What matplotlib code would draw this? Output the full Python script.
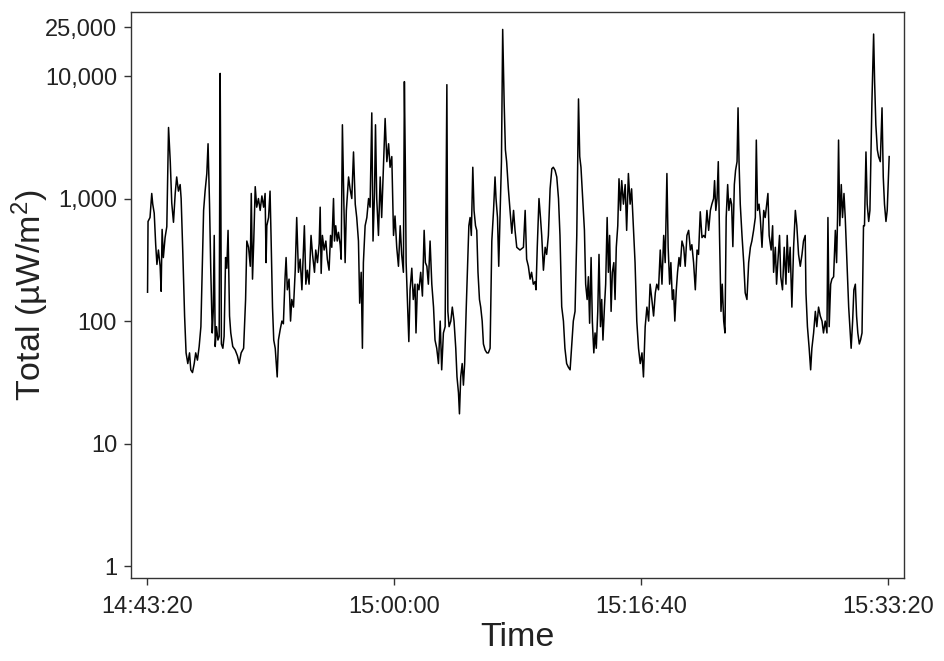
import numpy as np
import pandas as pd
import matplotlib
matplotlib.use("Agg")
import matplotlib.pyplot as plt
import matplotlib.dates as mdates
from matplotlib.ticker import FixedLocator, FuncFormatter, NullLocator

plt.rcParams["font.family"] = ["Liberation Sans", "DejaVu Sans"]
plt.rcParams["mathtext.fontset"] = "custom"
plt.rcParams["mathtext.rm"] = "Liberation Sans"
plt.rcParams["mathtext.it"] = "Liberation Sans"

# seconds after 14:43:20 and the total reading (µW/m²)
seconds = [
    2, 4, 12, 19, 23, 29, 35, 40, 46, 53, 57, 61, 66, 73, 80, 87, 94, 100, 107, 114,
    120, 127, 134, 138, 145, 152, 158, 165, 172, 177, 184, 191, 197, 204, 211, 218, 223, 229, 235, 242,
    247, 253, 258, 264, 268, 272, 276, 281, 287, 292, 296, 299, 301, 307, 312, 318, 323, 328, 334, 339,
    347, 357, 366, 373, 381, 391, 399, 404, 411, 418, 422, 427, 432, 438, 444, 451, 458, 465, 472,
    478, 482, 485, 492, 498, 502, 508, 513, 519, 527, 532, 539, 546, 552, 559, 563, 568, 575, 581, 586,
    593, 600, 606, 613, 620, 627, 637, 643, 649, 656, 664, 670, 678, 683, 690, 697, 701, 705, 710, 717,
    724, 730, 737, 743, 748, 755, 759, 764, 770, 775, 782, 786, 791, 797, 802, 807, 816, 822, 829, 836,
    843, 849, 856, 861, 867, 872, 876, 883, 890, 897, 903, 910, 915, 921, 925, 930, 937, 944, 950, 957,
    964, 971, 978,
    984, 991, 998, 1004, 1011, 1018, 1025, 1031, 1038, 1042, 1046, 1049, 1054, 1060, 1065, 1072, 1078, 1085, 1089, 1095,
    1101, 1108, 1115, 1122, 1127, 1133, 1139, 1146, 1153, 1160, 1166, 1173, 1180, 1187, 1193, 1200, 1207, 1214, 1218, 1223,
    1230, 1236, 1243, 1250, 1255, 1261, 1265, 1270, 1276, 1281, 1286, 1292, 1297, 1303, 1308, 1313, 1319, 1324, 1330, 1335,
    1340, 1346, 1351, 1357, 1362, 1369, 1376, 1382, 1389, 1396, 1403, 1409, 1413, 1419, 1424, 1430, 1435, 1440, 1446, 1451,
    1456, 1463, 1470, 1477, 1484,
    1490, 1497, 1510, 1524, 1531, 1537, 1544, 1551, 1557, 1564, 1571, 1575, 1580, 1587, 1593, 1598, 1605, 1612, 1618, 1625,
    1632, 1639, 1645, 1652, 1659, 1666, 1672, 1679, 1686, 1692, 1699, 1706, 1713, 1720, 1726, 1733, 1740, 1747, 1752, 1757,
    1764, 1771, 1776, 1782, 1787, 1792, 1798, 1803, 1809, 1814, 1819, 1825, 1830, 1836, 1841, 1846, 1852, 1857, 1863, 1868,
    1873, 1879, 1884, 1890, 1895, 1900, 1906, 1911, 1917, 1922, 1929, 1936, 1942, 1949, 1956, 1962, 1969, 1976, 1983, 1990,
    1997, 2004, 2010, 2017, 2024, 2031, 2037, 2044, 2051, 2058, 2064, 2071, 2078, 2085, 2092, 2098, 2105, 2110, 2116, 2121,
    2127, 2132, 2137, 2143, 2148, 2154, 2159, 2166, 2173, 2179, 2186, 2193, 2200, 2206, 2213, 2220, 2227, 2233, 2240, 2247,
    2254, 2260, 2267, 2274, 2281, 2287, 2294, 2298, 2303, 2308, 2313, 2318, 2324, 2329, 2335, 2340, 2345, 2351, 2356, 2362,
    2367, 2372, 2378, 2383, 2389, 2393, 2397, 2402, 2409, 2416, 2422, 2429, 2436, 2443, 2449, 2456, 2463, 2467, 2472, 2478,
    2483, 2490, 2497,
    2503, 2514, 2519, 2527, 2533, 2537, 2544, 2549, 2554, 2561, 2566, 2573, 2580, 2587, 2592, 2598, 2604, 2611, 2618, 2625,
    2631, 2638, 2645, 2652, 2658, 2665, 2668, 2674, 2681, 2687, 2692, 2699, 2706, 2712, 2719, 2726, 2733, 2739, 2746, 2753,
    2757, 2762, 2768, 2773, 2780, 2787, 2792, 2796, 2800, 2805, 2811, 2816, 2822, 2827, 2834, 2841, 2847, 2851, 2857, 2862,
    2868, 2873, 2878, 2884, 2889, 2895, 2901, 2905, 2911, 2916, 2922, 2927, 2935, 2942, 2946, 2951, 2957, 2962, 2969, 2976,
    2981, 2986, 2992, 2997, 3005,
]
total = [
    172, 650, 700, 1100, 900, 760, 420, 290, 380, 280, 175, 560, 330, 480, 590, 3800, 2000, 920, 640, 1100,
    1500, 1150, 1300, 1000, 350, 110, 55, 45, 55, 40, 38, 45, 55, 48, 62, 90, 250, 800, 1150, 1600,
    2800, 900, 260, 80, 120, 500, 62, 90, 70, 75, 10500, 800, 65, 60, 75, 330, 270, 550, 110, 80,
    62, 58, 52, 45, 55, 60, 150, 450, 400, 280, 1100, 220, 450, 1250, 850, 1000, 800, 1050, 850,
    1100, 300, 600, 700, 1150, 500, 130, 70, 60, 35, 70, 85, 100, 95, 230, 330, 180, 220, 100, 150,
    130, 260, 700, 250, 320, 180, 600, 200, 260, 200, 500, 350, 250, 380, 300, 430, 850, 245, 500, 380,
    450, 320, 260, 500, 400, 1000, 450, 600, 450, 530, 420, 320, 4000, 900, 300, 800, 1500, 1200, 1000, 2400,
    900, 700, 450, 140, 250, 60, 300, 600, 700, 1000, 850, 5000, 450, 1100, 4000, 1000, 500, 1500, 700, 1800,
    4500, 2000, 2800,
    1800, 2200, 500, 720, 400, 280, 600, 350, 250, 9000, 1700, 300, 150, 68, 180, 270, 150, 200, 80, 200,
    180, 250, 160, 550, 300, 280, 200, 450, 200, 130, 70, 60, 45, 100, 40, 80, 90, 8500, 120, 90,
    100, 130, 100, 60, 35, 26, 17.5, 35, 45, 30, 45, 120, 250, 600, 700, 500, 1800, 800, 600, 550,
    250, 150, 130, 100, 65, 58, 55, 55, 60, 450, 800, 1500, 1000, 700, 280, 800, 2000, 24000, 6000, 2500,
    2000, 1200, 800, 520, 800,
    550, 400, 380, 400, 800, 320, 280, 220, 250, 200, 210, 180, 400, 1000, 700, 500, 260, 400, 350, 500,
    1200, 1750, 1800, 1700, 1500, 1000, 500, 131, 100, 60, 45, 42, 40, 65, 100, 120, 500, 6500, 2200, 1800,
    1000, 550, 200, 150, 230, 96, 330, 100, 55, 80, 60, 120, 350, 90, 150, 70, 130, 200, 700, 250,
    500, 120, 250, 300, 150, 400, 600, 1450, 800, 1400, 900, 1300, 550, 1600, 900, 1200, 600, 300, 100, 60,
    45, 55, 35, 90, 130, 100, 200, 150, 110, 170, 200, 180, 380, 200, 500, 300, 1600, 400, 200, 300,
    150, 180, 100, 180, 250, 330, 280, 450, 400, 280, 500, 550, 380, 420, 300, 180, 380, 350, 780, 480,
    500, 480, 800, 550, 800, 900, 1000, 1400, 800, 1000, 2000, 500, 120, 200, 100, 80, 700, 1300, 800, 1000,
    900, 405, 1300, 1700, 2000, 5500, 2000, 900, 500, 300, 170, 150, 300, 400, 450, 550, 700, 3000, 800, 900,
    700, 400, 800,
    700, 1100, 500, 380, 600, 250, 400, 200, 300, 500, 230, 180, 400, 200, 500, 250, 400, 130, 400, 800,
    600, 350, 280, 350, 450, 500, 170, 90, 60, 40, 60, 80, 120, 90, 130, 110, 100, 80, 100, 80,
    700, 90, 200, 220, 230, 550, 300, 700, 3000, 600, 1300, 700, 1100, 700, 300, 130, 80, 60, 100, 180,
    200, 110, 80, 65, 70, 80, 600, 600, 2400, 900, 650, 800, 6000, 22000, 9000, 4000, 2500, 2200, 2000, 5500,
    1500, 900, 650, 800, 2200,
]

start = pd.Timestamp("2000-01-01 14:43:20")
tick_seconds = [0, 1000, 2000, 3000]
y_ticks = [1, 10, 100, 1000, 10000, 25000]

times = start + pd.to_timedelta(seconds, unit="s")

fig = plt.figure(figsize=(9.45, 6.61), dpi=100)
ax = fig.add_axes([131 / 945, 1 - 578 / 661, (904 - 131) / 945, (578 - 12) / 661])

ax.plot(times, total, color="black", linewidth=1.1)

ax.set_yscale("log")
ax.set_ylim(0.8, 33300)
ax.yaxis.set_major_locator(FixedLocator(y_ticks))
ax.yaxis.set_minor_locator(NullLocator())
ax.yaxis.set_major_formatter(FuncFormatter(lambda v, _: f"{v:,.0f}"))

pad = pd.Timedelta(seconds=65)
ax.set_xlim(start - pad, start + pd.Timedelta(seconds=3000) + pad)
ax.xaxis.set_major_locator(FixedLocator(mdates.date2num(start + pd.to_timedelta(tick_seconds, unit="s"))))
ax.xaxis.set_major_formatter(mdates.DateFormatter("%H:%M:%S"))

for side in ("top", "right", "bottom", "left"):
    ax.spines[side].set_color("#333333")
    ax.spines[side].set_linewidth(1.0)
ax.tick_params(axis="both", direction="out", length=5, width=1.0, color="#333333",
               labelsize=17, labelcolor="#222222")
ax.tick_params(axis="x", pad=8)
ax.tick_params(axis="y", pad=5)

ax.set_xlabel("Time", fontsize=24.5, color="#222222", labelpad=3)
ax.set_ylabel(r"Total (µW/m$^\mathregular{2}$)", fontsize=24.5, color="#222222", labelpad=-4)

fig.savefig("out.png", dpi=100)
